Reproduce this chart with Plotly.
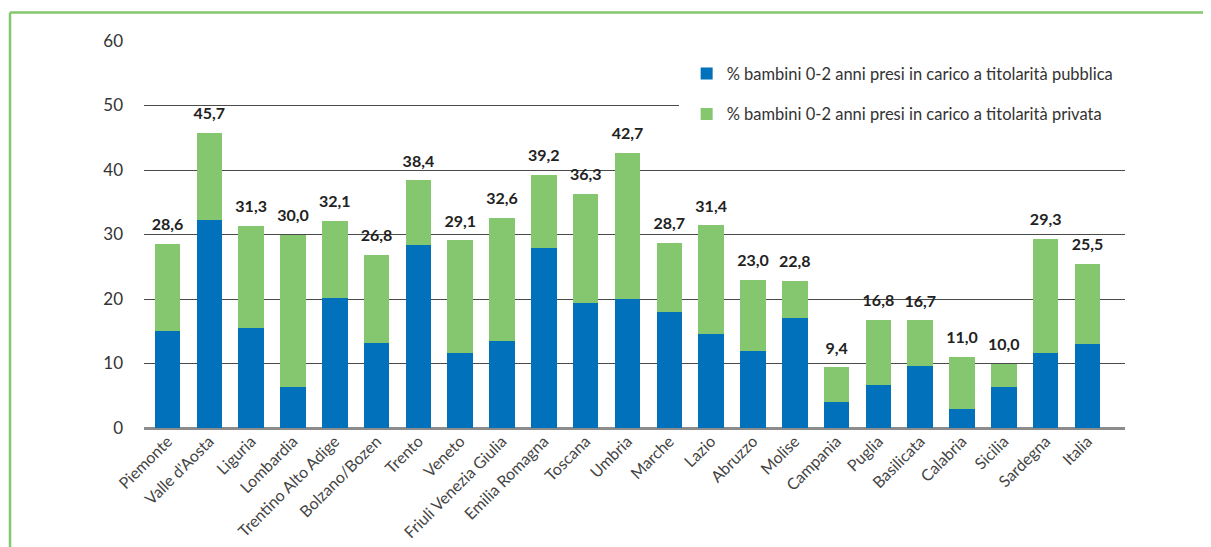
import plotly.graph_objects as go

# Regional data: % of children 0-2 years taken in charge
regioni = ["Piemonte", "Valle d'Aosta", "Liguria", "Lombardia", "Trentino Alto Adige",
           "Bolzano/Bozen", "Trento", "Veneto", "Friuli Venezia Giulia", "Emilia Romagna",
           "Toscana", "Umbria", "Marche", "Lazio", "Abruzzo", "Molise", "Campania",
           "Puglia", "Basilicata", "Calabria", "Sicilia", "Sardegna", "Italia"]
totale = [28.6, 45.7, 31.3, 30.0, 32.1, 26.8, 38.4, 29.1, 32.6, 39.2, 36.3, 42.7,
          28.7, 31.4, 23.0, 22.8, 9.4, 16.8, 16.7, 11.0, 10.0, 29.3, 25.5]
pubblica = [15.0, 32.2, 15.5, 6.4, 20.2, 13.2, 28.4, 11.6, 13.5, 27.9, 19.4, 20.0,
            18.0, 14.6, 11.9, 17.1, 4.0, 6.7, 9.6, 2.9, 6.4, 11.6, 13.0]
privata = [round(t - p, 1) for t, p in zip(totale, pubblica)]
etichette = [f"{t:.1f}".replace(".", ",") for t in totale]
y_ticks = [0, 10, 20, 30, 40, 50, 60]

COLORS = {
    'blue': '#0071ba',
    'green': '#84c76e',
    'grid': '#4a4a4a',
    'text': '#333333',
}
FONT = "Lato"

fig = go.Figure()
fig.add_trace(go.Bar(
    x=regioni, y=pubblica,
    name='% bambini 0-2 anni presi in carico a titolarità pubblica',
    marker_color=COLORS['blue'], marker_line_width=0,
    width=0.61, legendgroup='a',
))
fig.add_trace(go.Bar(
    x=regioni, y=privata,
    name='% bambini 0-2 anni presi in carico a titolarità privata',
    marker_color=COLORS['green'], marker_line_width=0,
    width=0.61, legendgroup='b',
))
# total labels above each stacked bar
fig.add_trace(go.Scatter(
    x=regioni, y=totale, mode='markers+text', text=etichette,
    textposition='top center', cliponaxis=False,
    marker=dict(size=14, opacity=0), showlegend=False, hoverinfo='skip',
    textfont=dict(family=FONT, size=16, color='#222222', weight=700),
))

fig.update_layout(
    barmode='stack',
    width=1211, height=547,
    paper_bgcolor='white', plot_bgcolor='white',
    font=dict(family=FONT, color=COLORS['text'], size=15),
    margin=dict(l=136, r=94, t=33, b=127),
    legend=dict(
        x=0.545, y=0.981, xanchor='left', yanchor='top',
        bgcolor='white', bordercolor='white', borderwidth=8,
        font=dict(size=16.5, color='#333333'),
        tracegroupgap=16, traceorder='grouped',
    ),
    shapes=[
        dict(type='line', xref='paper', yref='paper', x0=-0.1366, x1=1.1,
             y0=1.0736, y1=1.0736, line=dict(color=COLORS['green'], width=2.5)),
        dict(type='line', xref='paper', yref='paper', x0=-0.1366, x1=-0.1366,
             y0=-0.35, y1=1.0736, line=dict(color=COLORS['green'], width=2.5)),
    ],
)
fig.update_xaxes(
    range=[-0.562, 22.897], showgrid=False, tickangle=-45,
    tickfont=dict(size=16, color='#444444'), ticks='', showline=False,
)
fig.update_yaxes(
    range=[0, 60], tickvals=y_ticks, showgrid=True, gridcolor=COLORS['grid'],
    gridwidth=1, zeroline=True, zerolinecolor='#8c8c8c', zerolinewidth=2.5,
    tickfont=dict(size=17, color='#333333'), ticks='', ticklabelstandoff=20,
)

fig.write_html("out.html")
